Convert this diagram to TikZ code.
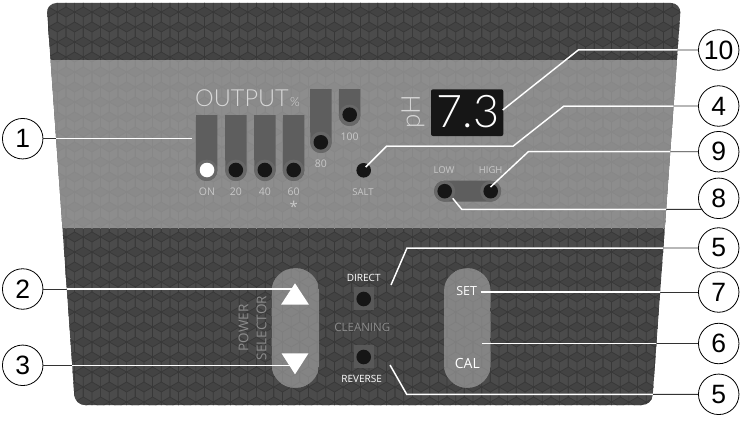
\documentclass[tikz,border=0pt]{standalone}
\usepackage{fontspec}
\setmainfont{Open Sans}
\newfontfamily\callfont{Liberation Sans}
\newfontfamily\thinfont{Lato Light}
\definecolor{darkbase}{HTML}{4B4B4B}
\definecolor{darkline}{HTML}{383838}
\definecolor{darkrh}{HTML}{434343}
\definecolor{bandbase}{HTML}{8D8D8D}
\definecolor{bandline}{HTML}{878787}
\definecolor{bandrh}{HTML}{8A8A8A}
\definecolor{slotc}{HTML}{5E5E5E}
\definecolor{ringc}{HTML}{686868}
\definecolor{knobc}{HTML}{161616}
\definecolor{pillc}{HTML}{848484}
\definecolor{pillline}{HTML}{7E7E7E}
\definecolor{softtxt}{HTML}{C8C8C8}
\definecolor{brighttxt}{HTML}{D8D8D8}
\definecolor{midtxt}{HTML}{8C8C8C}
\definecolor{leadout}{HTML}{333333}
\newcommand{\panelpath}{[rounded corners=10pt] (46.5,3) -- (681,3) -- (652,405) -- (75,405) -- cycle}
% fill colour, line colour, first row, last row, first column, last column
\newcommand{\cubes}[6]{%
 \foreach \j in {#3,...,#4}{\foreach \i in {#5,...,#6}{%
  \pgfmathsetmacro\cx{40+17.32*\i+8.66*mod(\j,2)}%
  \pgfmathsetmacro\cy{2+15*\j}%
  \fill[#1] (\cx,\cy-10) -- (\cx+8.66,\cy-5) -- (\cx,\cy) -- (\cx-8.66,\cy-5) -- cycle;
  \draw[#2,line width=.7pt] (\cx,\cy) -- (\cx,\cy+10) (\cx-8.66,\cy-5) -- (\cx,\cy-10) -- (\cx+8.66,\cy-5) -- (\cx,\cy) -- cycle (\cx+8.66,\cy-5) -- (\cx+8.66,\cy+5) (\cx-8.66,\cy-5) -- (\cx-8.66,\cy+5);
 }}}
\newcommand{\slotshape}[4]{% x1 x2 top bottom
 \fill[slotc] (#1,#3) -- (#2,#3) -- (#2,#4-10.7) arc[start angle=0,end angle=-180,radius=10.7pt] -- cycle;
 \fill[ringc] ({(#1+#2)/2},#4-10.7) circle[radius=10.7pt];}
\newcommand{\pillshape}[4]{% x1 x2 first column, last column
 \begin{scope}
  \clip[rounded corners=23pt] (#1,268.3) rectangle (#2,387.7);
  \fill[pillc] (#1,268.3) rectangle (#2,387.7);
  \cubes{pillc}{pillline}{17}{26}{#3}{#4}
 \end{scope}}
\tikzset{
 knob/.style={circle,fill=knobc,inner sep=0pt,minimum size=14.6pt},
 call/.style={circle,draw=black,fill=white,line width=.8pt,inner sep=0pt,minimum size=40.5pt,font=\callfont\fontsize{26.5}{28}\selectfont,text=black},
 small/.style={inner sep=0pt,text=softtxt,font=\fontsize{9.5}{10}\selectfont},
 num/.style={inner sep=0pt,text=softtxt,font=\fontsize{10.5}{11}\selectfont},
 ctrl/.style={inner sep=0pt,text=white,font=\fontsize{10}{11}\selectfont},
 leaddark/.style={draw=leadout,line width=.9pt},
 leadwhite/.style={draw=white,line width=1.5pt},
}
\newcommand{\leadline}[1]{%
 \draw[leaddark] #1;
 \begin{scope}\clip \panelpath; \draw[leadwhite] #1; \end{scope}}
\begin{document}
\begin{tikzpicture}[x=1pt,y=-1pt]
\useasboundingbox (0,0) rectangle (743,420);
\fill[darkbase] \panelpath;
\begin{scope}
 \clip \panelpath;
 \cubes{darkrh}{darkline}{0}{4}{0}{38}
 \cubes{darkrh}{darkline}{15}{27}{0}{38}
 \clip (0,60) rectangle (743,228);
 \fill[bandbase] (0,60) rectangle (743,228);
 \cubes{bandrh}{bandline}{4}{15}{0}{38}
\end{scope}
% output slots
\slotshape{196}{217.3}{115}{181}
\slotshape{225}{246.7}{115}{181}
\slotshape{254}{275.7}{115}{181}
\slotshape{283}{304.3}{115}{181}
\slotshape{310}{331.7}{89}{153}
\slotshape{339}{360.3}{89}{126}
\node[knob,fill=white] (kon) at (207,170) {};
\node[knob] (k20) at (235.8,170) {};
\node[knob] (k40) at (264.8,170) {};
\node[knob] (k60) at (293.7,170) {};
\node[knob] (k80) at (320.8,142.3) {};
\node[knob] (k100) at (349.7,114.7) {};
\node[knob] (ksalt) at (363.7,170.3) {};
\node[anchor=base west,inner sep=0pt,text=brighttxt,font=\thinfont\fontsize{23.5}{26}\selectfont] (output) at (195,106.5) {OUTPUT};
\node[anchor=base west,inner sep=0pt,text=brighttxt,font=\thinfont\fontsize{12.5}{14}\selectfont] (pct) at (290,106.5) {\%};
\node[num] (lon) at (207,192) {ON};
\node[num] (l20) at (235.8,192) {20};
\node[num] (l40) at (264.8,192) {40};
\node[num] (l60) at (293.7,192) {60};
\node[small,font=\fontsize{15}{15}\selectfont] (star) at (293.7,207) {*};
\node[num] (l80) at (320.8,164) {80};
\node[num] (l100) at (349.7,136.7) {100};
\node[small] (lsalt) at (363,192) {SALT};
% pH display
\fill[knobc,rounded corners=2pt] (431,89.3) rectangle (503.3,136);
\node[inner sep=0pt,text=white,font=\thinfont\fontsize{45}{46}\selectfont] (disp) at (468,112) {7.3};
\node[inner sep=0pt,rotate=90,text=brighttxt,font=\thinfont\fontsize{26}{26}\selectfont] (ph) at (413,112) {pH};
% low high
\fill[slotc,rounded corners=10.5pt] (434,180.7) rectangle (501,201.7);
\fill[ringc] (444.7,191.2) circle[radius=10.5pt] (490.7,191.2) circle[radius=10.5pt];
\node[knob] (klow) at (444.7,191.2) {};
\node[knob] (khigh) at (490.7,191.2) {};
\node[small] (llow) at (444,170) {LOW};
\node[small] (lhigh) at (490.7,170) {HIGH};
% lower controls
\pillshape{271.7}{319}{12}{16}
\pillshape{444}{490.7}{22}{26}
\fill[white] (295,283.3) -- (309,304.7) -- (281,304.7) -- cycle;
\fill[white] (295,374.3) -- (308.5,353.3) -- (281.5,353.3) -- cycle;
\node[inner sep=0pt,rotate=90,text=midtxt,font=\fontsize{13.5}{14}\selectfont] (pow) at (243.5,328) {POWER};
\node[inner sep=0pt,rotate=90,text=midtxt,font=\fontsize{13.5}{14}\selectfont] (sel) at (261.5,328) {SELECTOR};
\fill[darkbase!93!white] (353.5,287) rectangle (374,310);
\fill[darkbase!93!white] (353.5,345) rectangle (374,368);
\node[knob] (kdir) at (363.7,299) {};
\node[knob] (krev) at (363.7,357) {};
\node[ctrl] (ldir) at (363.7,278) {DIRECT};
\node[ctrl] (lrev) at (361.7,378.7) {REVERSE};
\node[inner sep=0pt,text=midtxt,font=\fontsize{11.5}{12}\selectfont] (lclean) at (362.3,327.3) {CLEANING};
\node[ctrl,font=\fontsize{12.5}{13}\selectfont] (lset) at (466.7,291.3) {SET};
\node[ctrl,font=\fontsize{14}{15}\selectfont] (lcal) at (467.3,363.3) {CAL};
% callouts
\node[call] (c1) at (22.7,138.7) {1};
\node[call] (c2) at (22.7,289) {2};
\node[call] (c3) at (22.7,365.3) {3};
\node[call] (c10) at (718.7,50) {10};
\node[call] (c4) at (718.7,106) {4};
\node[call] (c9) at (718.7,151.7) {9};
\node[call] (c8) at (718.7,198.3) {8};
\node[call] (c5a) at (718.7,248) {5};
\node[call] (c7) at (718.7,292) {7};
\node[call] (c6) at (718.7,343.5) {6};
\node[call] (c5b) at (718.7,394.3) {5};
\coordinate (e1) at (191.7,138.7);
\coordinate (e2) at (293,289);
\coordinate (e3) at (293,365.3);
\coordinate (e10) at (502.7,110);
\coordinate (b10) at (578.3,50);
\coordinate (e4) at (365.7,167);
\coordinate (a4) at (386.7,146);
\coordinate (b4) at (513.3,146);
\coordinate (d4) at (564,106);
\coordinate (e9) at (490.5,187);
\coordinate (b9) at (528.3,151.7);
\coordinate (e8) at (452.7,198.3);
\coordinate (b8) at (461.7,209.3);
\coordinate (t8) at (702.5,209.3);
\coordinate (e5a) at (391,285);
\coordinate (b5a) at (407,248);
\coordinate (e5b) at (390,365);
\coordinate (b5b) at (406.7,394.3);
\coordinate (e7) at (480.7,292);
\coordinate (e6) at (481.7,343.5);
\leadline{(c1) -- (e1)}
\leadline{(c2) -- (e2)}
\leadline{(c3) -- (e3)}
\leadline{(e10) -- (b10) -- (c10)}
\leadline{(e4) -- (a4) -- (b4) -- (d4) -- (c4)}
\leadline{(e9) -- (b9) -- (c9)}
\leadline{(e8) -- (b8) -- (t8)}
\leadline{(e5a) -- (b5a) -- (c5a)}
\leadline{(e5b) -- (b5b) -- (c5b)}
\leadline{(e7) -- (c7)}
\leadline{(e6) -- (c6)}
\end{tikzpicture}
\end{document}
